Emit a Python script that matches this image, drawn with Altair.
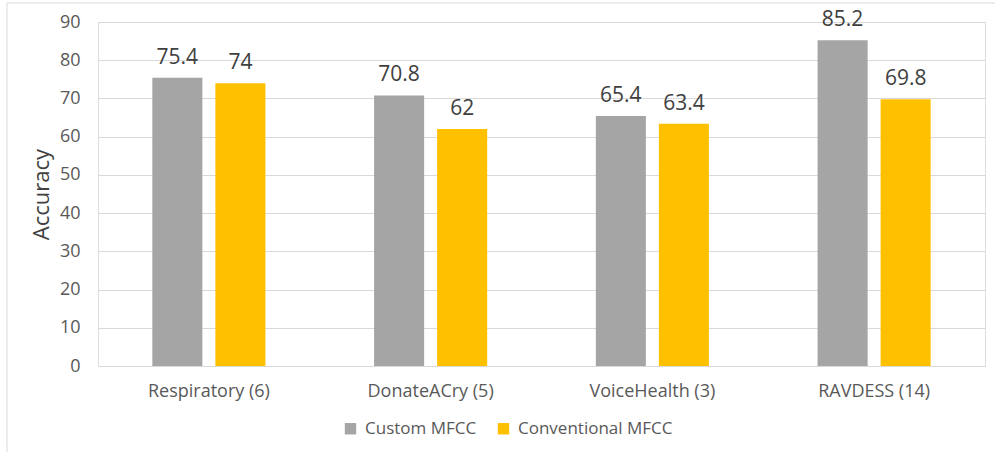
import altair as alt
import pandas as pd

categories = ["Respiratory (6)", "DonateACry (5)", "VoiceHealth (3)", "RAVDESS (14)"]
series = ["Custom MFCC", "Conventional MFCC"]
custom_vals = [75.4, 70.8, 65.4, 85.2]
conventional_vals = [74, 62, 63.4, 69.8]
colors = ["#A5A5A5", "#FFC000"]

rows = []
for c, a, b in zip(categories, custom_vals, conventional_vals):
    rows.append({"cat": c, "series": series[0], "val": a, "lbl": f"{a:g}"})
    rows.append({"cat": c, "series": series[1], "val": b, "lbl": f"{b:g}"})
df = pd.DataFrame(rows)

FONT = "Open Sans"
W, H = 887, 344

x = alt.X("cat:N", sort=categories, title=None,
          scale=alt.Scale(paddingInner=0.49, paddingOuter=0.245),
          axis=alt.Axis(labelAngle=0, labelFontSize=18, labelColor="#595959", labelFont=FONT,
                        ticks=False, domainColor="#D9D9D9", labelPadding=16))
xo = alt.XOffset("series:N", sort=series, scale=alt.Scale(paddingInner=0.206, paddingOuter=0))
y = alt.Y("val:Q", scale=alt.Scale(domain=[0, 90]), title="Accuracy",
          axis=alt.Axis(values=list(range(0, 91, 10)), labelFontSize=18, labelColor="#595959",
                        labelFont=FONT, ticks=False, domain=False, gridColor="#D9D9D9",
                        labelPadding=18, titleFontSize=22, titleFont=FONT, titleColor="#404040",
                        titleFontWeight="normal", titlePadding=6))
color = alt.Color("series:N", sort=series, scale=alt.Scale(domain=series, range=colors),
                  legend=alt.Legend(title=None, orient="none", direction="horizontal",
                                    legendX=244, legendY=398, symbolType="square", symbolSize=130,
                                    symbolStrokeWidth=0, labelFontSize=17, labelFont=FONT,
                                    labelColor="#595959", columnPadding=18, labelOffset=6))

base = alt.Chart(df)
border = alt.Chart(pd.DataFrame({"a": [0]})).mark_rect(
    fill=None, stroke="#D9D9D9", strokeWidth=1
).encode(x=alt.value(-91), x2=alt.value(W + 20), y=alt.value(-19), y2=alt.value(H + 100))

bars = base.mark_bar().encode(x=x, xOffset=xo, y=y, color=color)
text = base.mark_text(dy=-20, fontSize=21, font=FONT, color="#404040").encode(
    x=x, xOffset=xo, y=y, text="lbl:N")

chart = alt.layer(border, bars, text).properties(
    width=W, height=H,
    autosize=alt.AutoSizeParams(type="none"),
    padding={"left": 98, "top": 22, "right": 10, "bottom": 86},
).configure_view(stroke=None).configure(background="white")

chart.save("out.html", embed_options={"renderer": "svg", "actions": False})
